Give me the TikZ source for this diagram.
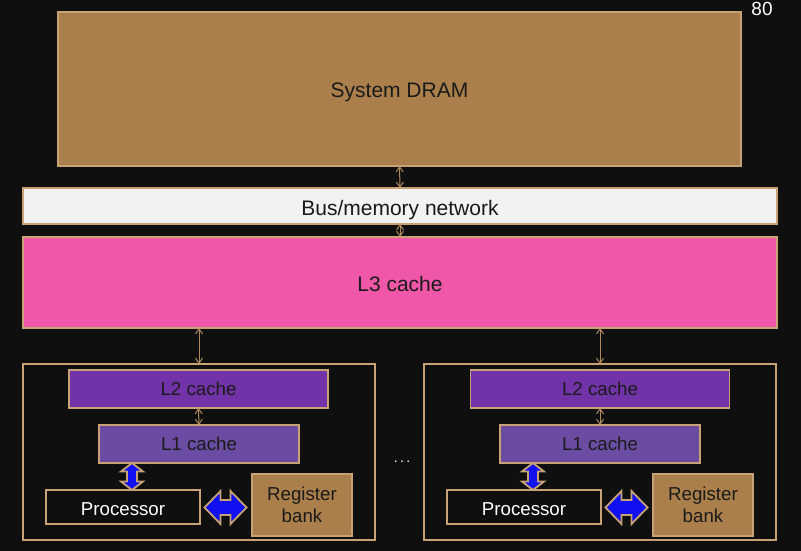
\documentclass[tikz,border=0pt]{standalone}
\usepackage{fontspec}
\setmainfont{Liberation Sans}
\usetikzlibrary{arrows.meta}
\definecolor{bg}{HTML}{0F0F0F}
\definecolor{tan}{HTML}{C8A274}
\definecolor{dram}{HTML}{AA7F4B}
\definecolor{busfill}{HTML}{F2F2F2}
\definecolor{lthree}{HTML}{F057A8}
\definecolor{ltwo}{HTML}{7333A8}
\definecolor{lone}{HTML}{6A4DA3}
\definecolor{txt}{HTML}{1A1A1A}
\definecolor{fat}{HTML}{1010F0}
\definecolor{link}{HTML}{B08A5A}
\newcommand{\bigf}{\fontsize{21}{24}\selectfont}
\newcommand{\smallf}{\fontsize{18.7}{21.5}\selectfont}
\tikzset{
  box/.style={draw=tan, line width=1.8pt, rectangle, inner sep=0pt, outer sep=0pt, text=txt, align=center},
  bigbox/.style={box, font=\bigf, text height=15pt, text depth=0pt},
  smbox/.style={box, font=\smallf, text height=13.4pt, text depth=0pt},
  link/.style={draw=link, line width=1pt, {Straight Barb[length=5pt,width=7pt]}-{Straight Barb[length=5pt,width=7pt]}},
  fatarrow/.style={draw=tan, fill=fat, line width=1.8pt, line join=miter},
}
\begin{document}
\begin{tikzpicture}[x=1pt,y=-1pt]
\fill[bg] (0,0) rectangle (801,551);
\useasboundingbox (0,0) rectangle (801,551);

\node[bigbox, fill=dram, minimum width=683, minimum height=154] (dram) at (399.5,89) {\raisebox{-1pt}{System DRAM}};
\node[bigbox, fill=busfill, minimum width=754, minimum height=36] (bus) at (400,206) {\raisebox{-2pt}{Bus/memory network}};
\node[bigbox, fill=lthree, minimum width=754, minimum height=91] (l3) at (400,282.5) {\raisebox{-1pt}{L3 cache}};

\node[text=white, font=\fontsize{19}{22}\selectfont] (pg) at (762,9) {80};

% left core
\node[box, fill=bg, minimum width=352, minimum height=176] (coreL) at (199,452) {};
\node[smbox, fill=ltwo, minimum width=259, minimum height=38] (l2L) at (198.5,389) {L2 cache};
\node[smbox, fill=lone, minimum width=200, minimum height=38] (l1L) at (199,444) {L1 cache};
\node[smbox, fill=bg, text=white, minimum width=154, minimum height=34] (procL) at (123,507) {\raisebox{-1.5pt}{Processor}};
\node[box, font=\smallf, fill=dram, minimum width=100, minimum height=62] (regL) at (302,505) {Register\\bank};
\coordinate (hL) at (225.5,507.5);
\coordinate (vL) at (132,476.5);

% right core
\node[box, fill=bg, minimum width=352, minimum height=176] (coreR) at (600,452) {};
\node[smbox, fill=ltwo, minimum width=259, minimum height=38] (l2R) at (600,389) {L2 cache};
\node[smbox, fill=lone, minimum width=200, minimum height=38] (l1R) at (600,444) {L1 cache};
\node[smbox, fill=bg, text=white, minimum width=154, minimum height=34] (procR) at (524,507) {\raisebox{-1.5pt}{Processor}};
\node[box, font=\smallf, fill=dram, minimum width=100, minimum height=62] (regR) at (703,505) {Register\\bank};
\coordinate (hR) at (626.5,507.5);
\coordinate (vR) at (533,476.5);

% fat blue double arrows
\foreach \c in {hL,hR}{
  \draw[fatarrow, shift={(\c)}] (-21,0) -- (-5,-16.5) -- (-5,-7.5) -- (5,-7.5) -- (5,-16.5) -- (21,0)
     -- (5,16.5) -- (5,7.5) -- (-5,7.5) -- (-5,16.5) -- cycle;
}
\foreach \c in {vL,vR}{
  \draw[fatarrow, shift={(\c)}] (0,-13.5) -- (11,-5) -- (5,-5) -- (5,5) -- (11,5) -- (0,13.5)
     -- (-11,5) -- (-5,5) -- (-5,-5) -- (-11,-5) -- cycle;
}

\node[text=white, font=\fontsize{14}{16}\selectfont, text height=0pt, text depth=0pt, inner sep=0pt] (dots) at (402,462) {.\,.\,.};

% links
\draw[link] (dram.south) -- (bus.north);
\draw[link] (bus.south) -- (l3.north);
\draw[link] (l3.south -| coreL.north) -- (coreL.north);
\draw[link] (l3.south -| coreR.north) -- (coreR.north);
\draw[link] (l2L.south) -- (l1L.north);
\draw[link] (l2R.south) -- (l1R.north);
\end{tikzpicture}
\end{document}
